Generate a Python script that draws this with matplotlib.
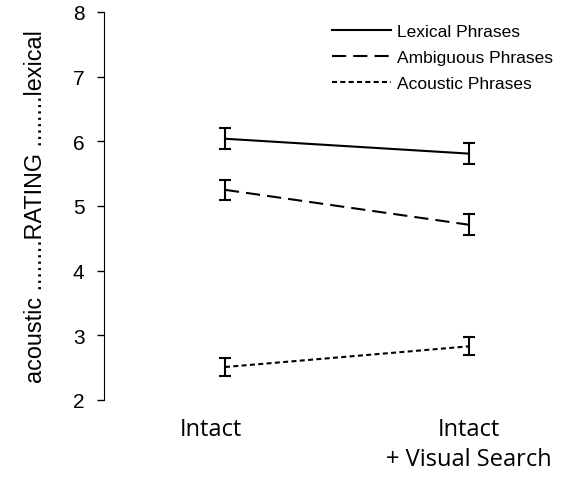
import matplotlib
matplotlib.use('Agg')
import matplotlib.pyplot as plt

conditions = ['Intact', 'Intact\n+ Visual Search']
lexical = [6.04, 5.81]
lexical_err = [0.16, 0.165]
ambiguous = [5.25, 4.71]
ambiguous_err = [0.155, 0.165]
acoustic = [2.51, 2.83]
acoustic_err = [0.14, 0.14]

fig = plt.figure(figsize=(5.69, 4.81), dpi=100)
ax = fig.add_axes([104 / 569, 80 / 481, 456 / 569, 388 / 481])

x = [0, 1]
styles = [
    (lexical, lexical_err, '-', 'Lexical Phrases'),
    (ambiguous, ambiguous_err, (0, (6.8, 3.4)), 'Ambiguous Phrases'),
    (acoustic, acoustic_err, (0, (2.4, 1.6)), 'Acoustic Phrases'),
]
handles = []
for vals, errs, ls, lab in styles:
    line, = ax.plot(x, vals, color='black', linestyle=ls, linewidth=1.5, label=lab)
    ax.errorbar(x, vals, yerr=errs, fmt='none', ecolor='black',
                elinewidth=1.5, capsize=4, capthick=1.5)
    handles.append(line)

ax.set_ylim(2, 8)
ax.set_xlim(-0.496, 1.373)
ax.set_yticks(range(2, 9))
ax.tick_params(axis='y', direction='out', length=5, width=1, pad=9,
               labelsize=15)
for t in ax.get_yticklabels():
    t.set_fontfamily('Liberation Sans')

# label positions (left label sits a bit left of its point in the original)
ax.set_xticks([-0.06, 1.0])
ax.set_xticklabels(conditions, fontfamily='Open Sans', fontsize=17,
                   linespacing=1.35, va='top')
ax.tick_params(axis='x', length=0, pad=12)

for s in ['top', 'right', 'bottom']:
    ax.spines[s].set_visible(False)

ax.set_ylabel('acoustic ........RATING ........lexical', fontfamily='Liberation Sans',
              fontsize=16.8)
ax.yaxis.set_label_coords((47 - 104) / 456, 0.5)

ax.legend(handles=handles, loc='upper right', bbox_to_anchor=(1.02, 1.01),
          frameon=False, prop={'family': 'Liberation Sans', 'size': 12.5},
          handlelength=3.4, handletextpad=0.4, labelspacing=0.62)

fig.savefig('out.png', dpi=100)
